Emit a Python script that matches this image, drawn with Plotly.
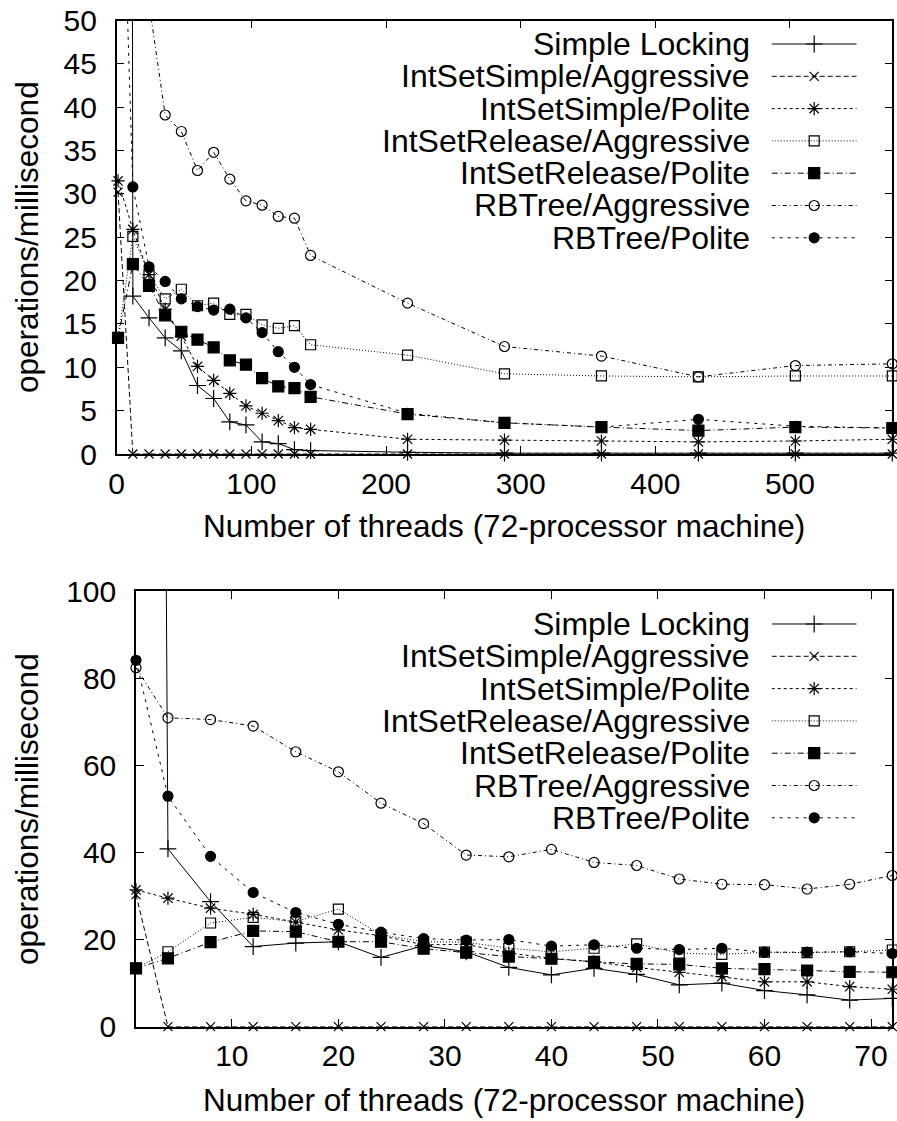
import plotly.graph_objects as go

# ---------------- data ----------------
series_names = ["Simple Locking", "IntSetSimple/Aggressive", "IntSetSimple/Polite",
                "IntSetRelease/Aggressive", "IntSetRelease/Polite",
                "RBTree/Aggressive", "RBTree/Polite"]

threads_top = [1, 12, 24, 36, 48, 60, 72, 84, 96, 108, 120, 132, 144, 216, 288, 360, 432, 504, 576]
simple_locking_top = [1200, 18.2, 15.7, 13.4, 11.9, 7.9, 6.4, 3.7, 3.35, 1.4, 1.2, 0.5, 0.4, 0.2, 0.1, 0.1, 0.1, 0.1, 0.1]
intsetsimple_aggr_top = [30.2, 0, 0, 0, 0, 0, 0, 0, 0, 0, 0, 0, 0, 0, 0, 0, 0, 0, 0]
intsetsimple_polite_top = [31.5, 25.9, 20.7, 16.7, 13.6, 10.1, 8.5, 7.0, 5.55, 4.7, 3.85, 3.05, 2.85, 1.7, 1.6, 1.5, 1.4, 1.5, 1.7]
intsetrelease_aggr_top = [13.4, 25.1, 20.7, 17.9, 19.0, 17.1, 17.4, 16.1, 16.1, 14.9, 14.5, 14.8, 12.6, 11.4, 9.25, 9.0, 8.9, 9.0, 9.0]
intsetrelease_polite_top = [13.4, 21.9, 19.4, 16.0, 14.1, 13.2, 12.3, 10.8, 10.3, 8.75, 7.8, 7.6, 6.6, 4.6, 3.6, 3.1, 2.7, 3.1, 3.0]
rbtree_aggr_top = [83, 70, 52, 39.1, 37.2, 32.7, 34.8, 31.7, 29.2, 28.7, 27.4, 27.2, 22.9, 17.4, 12.4, 11.3, 8.9, 10.2, 10.4]
rbtree_polite_top = [85, 30.8, 21.6, 19.9, 17.9, 17.0, 16.6, 16.7, 15.7, 14.0, 11.8, 10.0, 8.0, 4.7, 3.6, 3.1, 4.0, 3.2, 3.0]

threads_bottom = [1, 4, 8, 12, 16, 20, 24, 28, 32, 36, 40, 44, 48, 52, 56, 60, 64, 68, 72]
simple_locking_bottom = [1200, 40.8, 28.7, 18.4, 19.2, 19.5, 15.9, 18.6, 17.2, 13.6, 11.9, 13.4, 12.0, 9.6, 10.0, 8.3, 7.3, 6.1, 6.5]
intsetsimple_aggr_bottom = [30.3, 0, 0, 0, 0, 0, 0, 0, 0, 0, 0, 0, 0, 0, 0, 0, 0, 0, 0]
intsetsimple_polite_bottom = [31.4, 29.5, 27.2, 25.8, 24.0, 22.2, 20.9, 18.8, 18.9, 16.9, 15.7, 14.9, 13.6, 12.5, 11.5, 10.3, 10.3, 9.2, 8.6]
intsetrelease_aggr_bottom = [13.4, 17.2, 23.8, 25.1, 24.1, 27.0, 21.1, 19.5, 19.4, 18.0, 17.2, 18.0, 19.0, 16.9, 16.6, 17.1, 17.0, 17.2, 17.6]
intsetrelease_polite_bottom = [13.4, 15.7, 19.4, 22.0, 21.8, 19.5, 19.5, 17.9, 17.0, 16.1, 15.6, 14.9, 14.4, 14.3, 13.4, 13.2, 12.9, 12.6, 12.5]
rbtree_aggr_bottom = [82.4, 70.9, 70.5, 69.0, 63.1, 58.5, 51.3, 46.6, 39.4, 39.0, 40.7, 37.7, 37.0, 33.9, 32.7, 32.6, 31.6, 32.7, 34.7]
rbtree_polite_bottom = [84.1, 52.9, 39.1, 30.8, 26.2, 23.5, 21.7, 20.2, 19.9, 20.0, 18.5, 18.8, 18.0, 17.7, 18.0, 17.1, 17.1, 17.2, 16.8]

top_x_ticks = [0, 100, 200, 300, 400, 500]
top_y_ticks = [0, 5, 10, 15, 20, 25, 30, 35, 40, 45, 50]
bottom_x_ticks = [10, 20, 30, 40, 50, 60, 70]
bottom_y_ticks = [0, 20, 40, 60, 80, 100]

x_title = "Number of threads (72-processor machine)"
y_title = "operations/millisecond"

# ---------------- styles ----------------
styles = [
    dict(dash="solid", symbol="cross-thin", size=12),
    dict(dash="5px,3px", symbol="x-thin", size=9),
    dict(dash="3px,3px", symbol="asterisk", size=11),
    dict(dash="1px,2px", symbol="square-open", size=10),
    dict(dash="6px,3px,1px,3px", symbol="square", size=11),
    dict(dash="4px,3px,1px,3px", symbol="circle-open", size=10),
    dict(dash="3px,5px", symbol="circle", size=10),
]

FONT = "Liberation Sans, Arial, Helvetica, sans-serif"
FS_TICK = 30
FS_TITLE = 31.5
FS_LEG = 32

W, H = 897, 1121

top_series = [simple_locking_top, intsetsimple_aggr_top, intsetsimple_polite_top,
              intsetrelease_aggr_top, intsetrelease_polite_top, rbtree_aggr_top, rbtree_polite_top]
bottom_series = [simple_locking_bottom, intsetsimple_aggr_bottom, intsetsimple_polite_bottom,
                 intsetrelease_aggr_bottom, intsetrelease_polite_bottom, rbtree_aggr_bottom, rbtree_polite_bottom]

fig = go.Figure()


def marker_for(st, sizes):
    return dict(symbol=st["symbol"], size=sizes, color="black", opacity=1,
                line=dict(color="black", width=1.2))


def add_series(xs, ys, st, xa, ya, ymax, name):
    sizes = [st["size"] if v <= ymax else 0 for v in ys]
    fig.add_trace(go.Scatter(
        x=xs, y=ys, mode="lines+markers", name=name, showlegend=False,
        xaxis=xa, yaxis=ya, cliponaxis=False,
        line=dict(color="black", width=1, dash=st["dash"]),
        marker=marker_for(st, sizes),
    ))


for name, ys, st in zip(series_names, top_series, styles):
    add_series(threads_top, ys, st, "x", "y", 50, name)
for name, ys, st in zip(series_names, bottom_series, styles):
    add_series(threads_bottom, ys, st, "x2", "y2", 100, name)

# ---------------- legend samples (gnuplot-style: text, then sample) ----------------
for i, (name, st) in enumerate(zip(series_names, styles)):
    for xa, ya in (("x3", "y3"), ("x4", "y4")):
        fig.add_trace(go.Scatter(
            x=[0, 0.5, 1], y=[i, i, i], mode="lines+markers", showlegend=False,
            xaxis=xa, yaxis=ya, cliponaxis=False, hoverinfo="skip",
            line=dict(color="black", width=1, dash=st["dash"]),
            marker=marker_for(st, [0, st["size"], 0]),
        ))


def px2paper_x(px):
    return px / W


def px2paper_y(py):
    return 1 - py / H


ROW0_TOP, ROW0_BOTTOM, ROW_STEP = 44, 624, 32.3
annotations = []
for i, name in enumerate(series_names):
    for row0 in (ROW0_TOP, ROW0_BOTTOM):
        annotations.append(dict(
            text=name, xref="paper", yref="paper", x=px2paper_x(752), y=px2paper_y(row0 + i * ROW_STEP),
            xanchor="right", yanchor="middle",
            showarrow=False, font=dict(family=FONT, size=FS_LEG, color="black")))

# axis titles
tfont = dict(family=FONT, size=FS_TITLE, color="black")
annotations += [
    dict(text=y_title, textangle=-90, xref="paper", yref="paper", x=px2paper_x(27), y=px2paper_y(237),
         xanchor="center", yanchor="middle", showarrow=False, font=tfont),
    dict(text=y_title, textangle=-90, xref="paper", yref="paper", x=px2paper_x(27), y=px2paper_y(809),
         xanchor="center", yanchor="middle", showarrow=False, font=tfont),
    dict(text=x_title, xref="paper", yref="paper", x=px2paper_x(504), y=px2paper_y(526),
         xanchor="center", yanchor="middle", showarrow=False, font=tfont),
    dict(text=x_title, xref="paper", yref="paper", x=px2paper_x(504), y=px2paper_y(1100),
         xanchor="center", yanchor="middle", showarrow=False, font=tfont),
]

axis_common = dict(showline=True, linecolor="black", linewidth=1.5, mirror="ticks",
                   ticks="inside", ticklen=8, tickwidth=1, tickcolor="black",
                   showgrid=False, zeroline=False, automargin=False,
                   ticklabeloverflow="allow",
                   tickfont=dict(family=FONT, size=FS_TICK, color="black"))

hidden = dict(visible=False, showgrid=False, zeroline=False, fixedrange=True, automargin=False)

fig.update_layout(
    template="none",
    width=W, height=H,
    margin=dict(l=0, r=0, t=0, b=0, pad=0),
    paper_bgcolor="white", plot_bgcolor="white",
    showlegend=False,
    font=dict(family=FONT, size=FS_TICK, color="black"),
    xaxis=dict(domain=[px2paper_x(116.7), px2paper_x(892.3)], range=[0, 576], anchor="y",
               tickvals=top_x_ticks, ticklabelstandoff=2, **axis_common),
    yaxis=dict(domain=[px2paper_y(454), px2paper_y(20.5)], range=[0, 50], anchor="x",
               tickvals=top_y_ticks, ticklabelstandoff=12, **axis_common),
    xaxis2=dict(domain=[px2paper_x(136), px2paper_x(892.3)], range=[1, 72], anchor="y2",
                tickvals=bottom_x_ticks, ticklabelstandoff=2, **axis_common),
    yaxis2=dict(domain=[px2paper_y(1026.7), px2paper_y(591)], range=[0, 100], anchor="x2",
                tickvals=bottom_y_ticks, ticklabelstandoff=12, **axis_common),
    xaxis3=dict(domain=[px2paper_x(771.7), px2paper_x(856.7)], range=[0, 1], anchor="y3", **hidden),
    yaxis3=dict(domain=[px2paper_y(ROW0_TOP + 6.5 * ROW_STEP), px2paper_y(ROW0_TOP - 0.5 * ROW_STEP)],
                range=[6.5, -0.5], anchor="x3", **hidden),
    xaxis4=dict(domain=[px2paper_x(771.7), px2paper_x(856.7)], range=[0, 1], anchor="y4", **hidden),
    yaxis4=dict(domain=[px2paper_y(ROW0_BOTTOM + 6.5 * ROW_STEP), px2paper_y(ROW0_BOTTOM - 0.5 * ROW_STEP)],
                range=[6.5, -0.5], anchor="x4", **hidden),
    annotations=annotations,
)

# remove the default 8px page margin so the 897x1121 figure fills the window exactly
fig.write_html("out.html", config={"displayModeBar": False},
               post_script="document.body.style.margin='0px';")
